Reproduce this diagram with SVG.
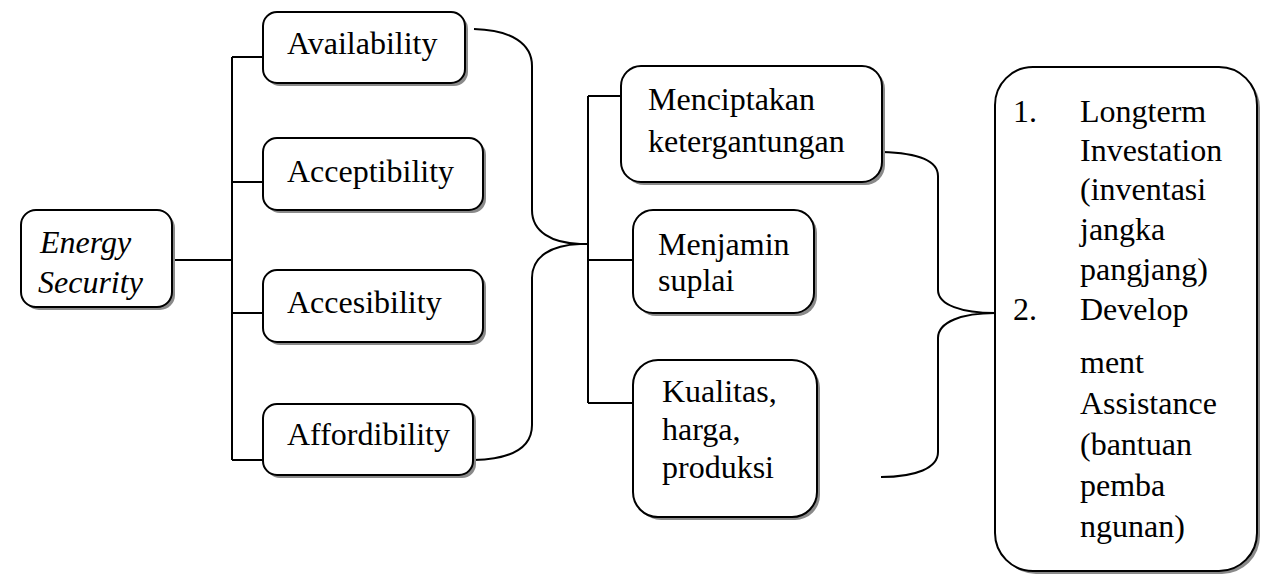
<svg xmlns="http://www.w3.org/2000/svg" width="1261" height="585" viewBox="0 0 1261 585">
<style>
.box{fill:#fff;stroke:#000;stroke-width:2}
.sh{fill:#8a8a8a;stroke:none}
.t{font-family:"Liberation Serif","Times New Roman",serif;font-size:32px;fill:#000}
.it{font-style:italic}
.ln{fill:none;stroke:#000;stroke-width:2}
</style>
<rect width="1261" height="585" fill="#fff"/>
<g id="connectors">
<path class="ln" d="M172,260 H232 M232,57 V460 M232,57 H263 M232,182 H263 M232,313 H263 M232,460 H263"/>
<path class="ln" d="M474,29 C512,30 532,44 532,66 V210 C532,232 552,243 580,244 C552,245 532,256 532,278 V425 C532,447 512,459 474,460"/>
<path class="ln" d="M580,244 H588 M588,96 V403 M588,96 H621 M588,260 H633 M588,403 H633"/>
<path class="ln" d="M882,152 C918,153 938,160 938,176 V290 C938,305 962,313 995,313 C962,313 938,322 938,338 V452 C938,468 916,477 881,477"/>
</g>
<g id="energy-security">
<rect class="sh" x="24" y="213" width="151" height="97" rx="15"/>
<rect class="box" x="21" y="210" width="151" height="97" rx="15"/>
<text class="t it" x="40" y="253">Energy</text>
<text class="t it" x="38" y="293">Security</text>
</g>
<g id="availability">
<rect class="sh" x="266" y="15" width="202" height="71" rx="14"/>
<rect class="box" x="263" y="12" width="202" height="71" rx="14"/>
<text class="t" x="287" y="54">Availability</text>
</g>
<g id="acceptibility">
<rect class="sh" x="266" y="141" width="220" height="72" rx="14"/>
<rect class="box" x="263" y="138" width="220" height="72" rx="14"/>
<text class="t" x="287" y="182">Acceptibility</text>
</g>
<g id="accesibility">
<rect class="sh" x="266" y="273" width="220" height="72" rx="14"/>
<rect class="box" x="263" y="270" width="220" height="72" rx="14"/>
<text class="t" x="287" y="313">Accesibility</text>
</g>
<g id="affordibility">
<rect class="sh" x="266" y="407" width="210" height="71" rx="14"/>
<rect class="box" x="263" y="404" width="210" height="71" rx="14"/>
<text class="t" x="287" y="445">Affordibility</text>
</g>
<g id="menciptakan">
<rect class="sh" x="624" y="69" width="261" height="116" rx="20"/>
<rect class="box" x="621" y="66" width="261" height="116" rx="20"/>
<text class="t" x="648" y="110">Menciptakan</text>
<text class="t" x="648" y="152">ketergantungan</text>
</g>
<g id="menjamin">
<rect class="sh" x="636" y="213" width="181" height="103" rx="20"/>
<rect class="box" x="633" y="210" width="181" height="103" rx="20"/>
<text class="t" x="658" y="255">Menjamin</text>
<text class="t" x="658" y="291">suplai</text>
</g>
<g id="kualitas">
<rect class="sh" x="636" y="363" width="184" height="157" rx="25"/>
<rect class="box" x="633" y="360" width="184" height="157" rx="25"/>
<text class="t" x="662" y="402">Kualitas,</text>
<text class="t" x="662" y="440">harga,</text>
<text class="t" x="662" y="478">produksi</text>
</g>
<g id="outcomes">
<rect class="sh" x="998" y="70" width="262" height="504" rx="38"/>
<rect class="box" x="995" y="67" width="262" height="504" rx="38"/>
<text class="t" x="1013" y="122">1.</text>
<text class="t" x="1080" y="122">Longterm</text>
<text class="t" x="1080" y="161">Investation</text>
<text class="t" x="1080" y="200">(inventasi</text>
<text class="t" x="1080" y="240">jangka</text>
<text class="t" x="1080" y="280">pangjang)</text>
<text class="t" x="1013" y="320">2.</text>
<text class="t" x="1080" y="320">Develop</text>
<text class="t" x="1080" y="373">ment</text>
<text class="t" x="1080" y="414">Assistance</text>
<text class="t" x="1080" y="455">(bantuan</text>
<text class="t" x="1080" y="496">pemba</text>
<text class="t" x="1080" y="537">ngunan)</text>
</g>
</svg>
